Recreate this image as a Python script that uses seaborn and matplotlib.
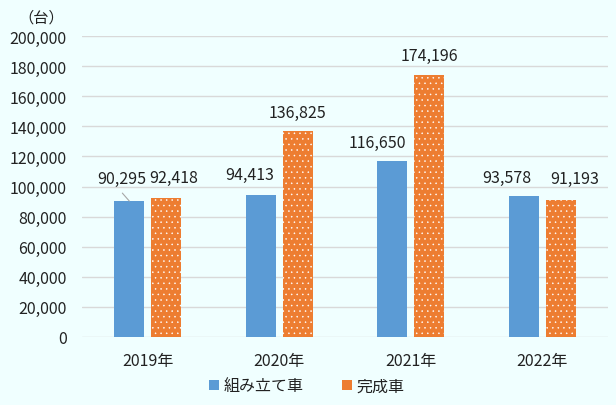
import seaborn as sns
import matplotlib.pyplot as plt
import pandas as pd
from matplotlib.patches import Patch

years = ["2019年", "2020年", "2021年", "2022年"]
series_names = ["組み立て車", "完成車"]
assembled = [90295, 94413, 116650, 93578]
complete = [92418, 136825, 174196, 91193]
y_ticks = [0, 20000, 40000, 60000, 80000, 100000, 120000, 140000, 160000, 180000, 200000]

# label offsets in pixels (dx, dy) per series, per year
label_offsets = {
    "組み立て車": [(-7.5, 23), (-11, 20), (-15, 19), (-17, 19)],
    "完成車": [(7.5, 20), (0, 19), (0, 19), (14, 21)],
}

df = pd.DataFrame({
    "year": years * 2,
    "kind": [series_names[0]] * 4 + [series_names[1]] * 4,
    "count": assembled + complete,
})

bg = "#F0FFFF"
blue = "#5B9BD5"
orange = "#ED7D31"

sns.set_style("white")
plt.rcParams["font.family"] = ["Noto Sans CJK JP", "DejaVu Sans"]
plt.rcParams["hatch.linewidth"] = 0.35

fig = plt.figure(figsize=(6.16, 4.06), dpi=100, facecolor=bg)
ax = fig.add_axes([82 / 616, 1 - 338 / 406, 526 / 616, 301 / 406])
ax.set_facecolor(bg)

sns.barplot(data=df, x="year", y="count", hue="kind", order=years,
            hue_order=series_names, palette=[blue, orange], saturation=1,
            width=0.56, gap=0.19, edgecolor="white", linewidth=0,
            legend=False, ax=ax)

# white dot pattern on the complete-vehicle bars
for p in ax.containers[1]:
    p.set_hatch("...")
    p.set_edgecolor("white")
    p.set_linewidth(0)

ax.set_ylim(0, 200000)
ax.set_yticks(y_ticks)
ax.set_yticklabels([f"{v:,}" for v in y_ticks])
ax.yaxis.grid(True, color="#D9D9D9", linewidth=1)
ax.set_axisbelow(True)
for s in ax.spines.values():
    s.set_visible(False)
ax.tick_params(axis="y", length=0, pad=11, labelsize=11.5, labelcolor="#222222")
ax.tick_params(axis="x", length=0, pad=11, labelsize=11.5, labelcolor="#222222")
ax.set_xlabel("")
ax.set_ylabel("")

# value labels
for name, cont in zip(series_names, ax.containers):
    for i, p in enumerate(cont):
        v = p.get_height()
        dx, dy = label_offsets[name][i]
        ax.annotate(f"{int(v):,}", (p.get_x() + p.get_width() / 2, v),
                    xytext=(dx, dy), textcoords="offset pixels",
                    ha="center", va="center", fontsize=11.5, color="#222222")

# leader line for the first label
p0 = ax.containers[0][0]
ax.annotate("", (p0.get_x() + p0.get_width() / 2, p0.get_height()),
            xytext=(-7, 8), textcoords="offset pixels",
            arrowprops=dict(arrowstyle="-", color="#A6A6A6", lw=0.8,
                            shrinkA=0, shrinkB=0))

fig.text(41 / 616, 1 - 18 / 406, "（台）", ha="center", va="center",
         fontsize=11, color="#222222")

handles = [Patch(facecolor=blue, edgecolor="white", linewidth=0),
           Patch(facecolor=orange, edgecolor="white", linewidth=0)]
fig.legend(handles, series_names, loc="center", ncol=2,
           bbox_to_anchor=(307 / 616, 1 - 387 / 406), frameon=False,
           fontsize=11.5, handlelength=0.6, handleheight=0.6,
           handletextpad=0.3, columnspacing=2.4, labelcolor="#222222")

fig.savefig("out.png", dpi=100, facecolor=bg)
